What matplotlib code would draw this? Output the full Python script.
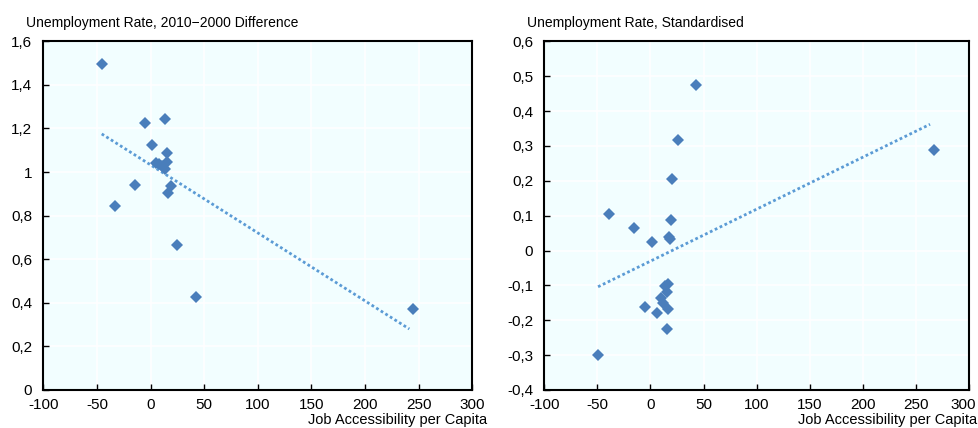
"""Two scatter panels: unemployment rate vs job accessibility per capita, with dotted trend lines."""

import matplotlib.pyplot as plt
from matplotlib.transforms import ScaledTranslation

plt.rcParams['font.family'] = ['Liberation Sans Narrow', 'Liberation Sans', 'DejaVu Sans']

# Left panel: unemployment rate, 2010-2000 difference
diff_x = [-45.3, -5.2, 13.2, 1.1, 15.6, 5.1, 10.4, 15.6, 13.5, 8.0,
          -14.8, -33.4, 18.8, 16.6, 24.7, 42.1, 245.0]
diff_y = [1.496, 1.224, 1.244, 1.126, 1.088, 1.043, 1.028, 1.048, 1.012, 1.035,
          0.942, 0.846, 0.938, 0.903, 0.667, 0.427, 0.372]
diff_trend_x = [-45.5, 241.3]
diff_trend_y = [1.175, 0.280]

# Right panel: unemployment rate, standardised
std_x = [42.9, 25.6, 20.6, 266.8, -39.1, -15.5, 19.0, 17.2, 18.4, 1.4,
         16.2, 13.7, 15.3, 9.6, 12.1, 16.2, -5.1, 6.4, 15.6, -49.4]
std_y = [0.476, 0.318, 0.205, 0.288, 0.106, 0.065, 0.087, 0.039, 0.033, 0.024,
         -0.097, -0.102, -0.119, -0.137, -0.151, -0.167, -0.162, -0.179, -0.226, -0.299]
std_trend_x = [-49.4, 263.3]
std_trend_y = [-0.104, 0.362]

x_ticks = [-100, -50, 0, 50, 100, 150, 200, 250, 300]
diff_ticks = [0, 0.2, 0.4, 0.6, 0.8, 1.0, 1.2, 1.4, 1.6]
std_ticks = [-0.4, -0.3, -0.2, -0.1, 0, 0.1, 0.2, 0.3, 0.4, 0.5, 0.6]

marker_color = '#4A7EBB'
trend_color = '#5B9BD5'
bg_color = '#F2FEFF'


def fmt(v):
    # comma as decimal separator, integers without decimals
    if abs(v - round(v)) < 1e-9:
        return str(int(round(v)))
    return f'{v:.1f}'.replace('.', ',')


fig = plt.figure(figsize=(9.79, 4.28), dpi=100)
ax1 = fig.add_axes([0.0442, 0.0888, 0.4382, 0.8147])
ax2 = fig.add_axes([0.556, 0.0888, 0.4338, 0.8147])

panels = [
    (ax1, diff_x, diff_y, diff_trend_x, diff_trend_y, diff_ticks,
     'Unemployment Rate, 2010\u22122000 Difference', 0.0155),
    (ax2, std_x, std_y, std_trend_x, std_trend_y, std_ticks,
     'Unemployment Rate, Standardised', 0.0085),
]

for ax, xs, ys, tx, ty, yt, title, xl_shift in panels:
    ax.set_facecolor(bg_color)
    ax.plot(tx, ty, color=trend_color, linewidth=2, linestyle=(0, (1, 0.95)), zorder=2)
    ax.plot(xs, ys, linestyle='none', marker='D', markersize=6.2,
            color=marker_color, markeredgewidth=0, zorder=3)
    ax.set_xlim(-100, 300)
    ax.set_ylim(yt[0], yt[-1])
    ax.set_xticks(x_ticks)
    ax.set_xticklabels([fmt(v) for v in x_ticks])
    ax.set_yticks(yt)
    ax.set_yticklabels([fmt(v) for v in yt])
    ax.grid(True, color='white', linewidth=1.2)
    ax.set_axisbelow(True)
    ax.tick_params(direction='in', length=4, width=1, labelsize=11)
    ax.tick_params(axis='x', pad=6)
    ax.tick_params(axis='y', pad=8)
    for s in ax.spines.values():
        s.set_linewidth(1.5)
        s.set_color('black')
    pos = ax.get_position()
    fig.text(pos.x0 - 0.018, 0.947, title, fontsize=10, ha='left', va='center')
    fig.text(pos.x1 + xl_shift, 0.002, 'Job Accessibility per Capita', fontsize=10.5,
             ha='right', va='bottom')

# keep the last x tick label of the right panel inside the figure
last = ax2.get_xticklabels()[-1]
last.set_transform(last.get_transform() + ScaledTranslation(-4 / 72, 0, fig.dpi_scale_trans))

plt.savefig('out.png', dpi=100)
